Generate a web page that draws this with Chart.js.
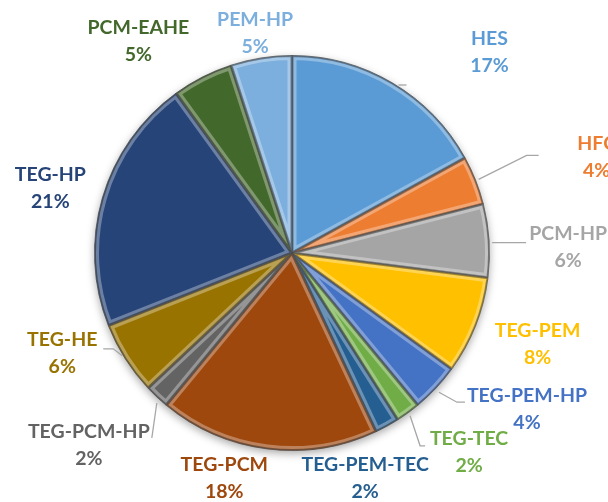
<!DOCTYPE html>
<html>
<head>
<meta charset="utf-8">
<script src="https://cdn.jsdelivr.net/npm/chart.js"></script>
<style>
    html, body { margin: 0; padding: 0; background: #ffffff; }
    #wrap { width: 608px; height: 502px; position: relative; overflow: hidden; }
</style>
</head>
<body>
<div id="wrap"><canvas id="pieChart" width="608" height="502"></canvas></div>
<script>
// share of each hybrid system (percent)
const categories = ['HES', 'HFC', 'PCM-HP', 'TEG-PEM', 'TEG-PEM-HP', 'TEG-TEC', 'TEG-PEM-TEC',
    'TEG-PCM', 'TEG-PCM-HP', 'TEG-HE', 'TEG-HP', 'PCM-EAHE', 'PEM-HP'];
const shares = [17, 4, 6, 8, 4, 2, 2, 18, 2, 6, 21, 5, 5];

const sliceColors = ['#5B9BD5', '#ED7D31', '#A5A5A5', '#FFC000', '#4472C4', '#70AD47', '#255E91',
    '#9E480E', '#636363', '#997300', '#264478', '#43682B', '#7CAFDD'];

// label offsets from the outer middle of each slice (px)
const labelNudge = [[97, -31], [121, -23], [79, 7], [62, 19], [91, 21], [61, 39], [-22, 52],
    [-43, 29], [-68, 48], [-63, -6], [-52, -10], [-64, -36], [-6, -25]];

// leader line points, also relative to the outer middle of the slice
const leaders = [
    [[6, 2], [14, 2]],
    [[3, -1], [51, -25], [63, -25]],
    [[3, 2], [37, 2]],
    null,
    [[3, 4], [21, 14], [29, 14]],
    [[2, 3], [12, 33], [17, 33]],
    null,
    null,
    [[0, 6], [-5, 41]],
    [[-3, -3], [-12, -10], [-22, -10]],
    null, null, null
];

const total = shares.reduce((a, b) => a + b, 0);

// soft drop shadow under the pie
const shadowPlugin = {
    id: 'pieShadow',
    beforeDatasetsDraw(chart) {
        const arc = chart.getDatasetMeta(0).data[0];
        if (!arc) return;
        const ctx = chart.ctx;
        ctx.save();
        ctx.shadowColor = 'rgba(0,0,0,0.35)';
        ctx.shadowBlur = 9;
        ctx.shadowOffsetY = 3;
        ctx.beginPath();
        ctx.arc(arc.x, arc.y, arc.outerRadius, 0, Math.PI * 2);
        ctx.fillStyle = '#ffffff';
        ctx.fill();
        ctx.restore();
    }
};

// rough imitation of the rounded bevel on every slice
const bevelPlugin = {
    id: 'bevel',
    afterDatasetsDraw(chart) {
        const ctx = chart.ctx;
        chart.getDatasetMeta(0).data.forEach(arc => {
            const p = arc.getProps(['x', 'y', 'startAngle', 'endAngle', 'outerRadius'], true);
            ctx.save();
            ctx.beginPath();
            ctx.moveTo(p.x, p.y);
            ctx.arc(p.x, p.y, p.outerRadius, p.startAngle, p.endAngle);
            ctx.closePath();
            ctx.clip();
            ctx.lineJoin = 'round';
            ctx.strokeStyle = 'rgba(255,255,255,0.32)';
            ctx.lineWidth = 9;
            ctx.stroke();
            ctx.strokeStyle = 'rgba(0,0,0,0.38)';
            ctx.lineWidth = 3;
            ctx.stroke();
            ctx.restore();
        });
    }
};

// outside labels with leader lines
const labelPlugin = {
    id: 'outsideLabels',
    afterDraw(chart) {
        const ctx = chart.ctx;
        chart.getDatasetMeta(0).data.forEach((arc, i) => {
            const p = arc.getProps(['x', 'y', 'startAngle', 'endAngle', 'outerRadius'], true);
            const mid = (p.startAngle + p.endAngle) / 2;
            const ax = p.x + Math.cos(mid) * p.outerRadius;
            const ay = p.y + Math.sin(mid) * p.outerRadius;

            if (leaders[i]) {
                ctx.save();
                ctx.strokeStyle = '#A6A6A6';
                ctx.lineWidth = 1.3;
                ctx.beginPath();
                leaders[i].forEach((pt, k) => {
                    if (k === 0) ctx.moveTo(ax + pt[0], ay + pt[1]);
                    else ctx.lineTo(ax + pt[0], ay + pt[1]);
                });
                ctx.stroke();
                ctx.restore();
            }

            const cx = ax + labelNudge[i][0];
            const cy = ay + labelNudge[i][1];
            const pct = Math.round(shares[i] / total * 100) + '%';
            ctx.save();
            ctx.fillStyle = sliceColors[i];
            ctx.font = 'bold 19.5px Lato, "Open Sans", sans-serif';
            ctx.textAlign = 'center';
            ctx.textBaseline = 'middle';
            ctx.fillText(categories[i], cx, cy - 13.5);
            ctx.fillText(pct, cx, cy + 13.5);
            ctx.restore();
        });
    }
};

new Chart(document.getElementById('pieChart'), {
    type: 'pie',
    data: {
        labels: categories,
        datasets: [{
            data: shares,
            backgroundColor: sliceColors,
            borderColor: 'rgba(40,40,40,0.6)',
            borderWidth: 1
        }]
    },
    options: {
        responsive: false,
        animation: false,
        layout: { padding: { left: 94, right: 118, top: 55, bottom: 51 } },
        plugins: {
            legend: { display: false },
            tooltip: { enabled: false }
        }
    },
    plugins: [shadowPlugin, bevelPlugin, labelPlugin]
});
</script>
</body>
</html>
